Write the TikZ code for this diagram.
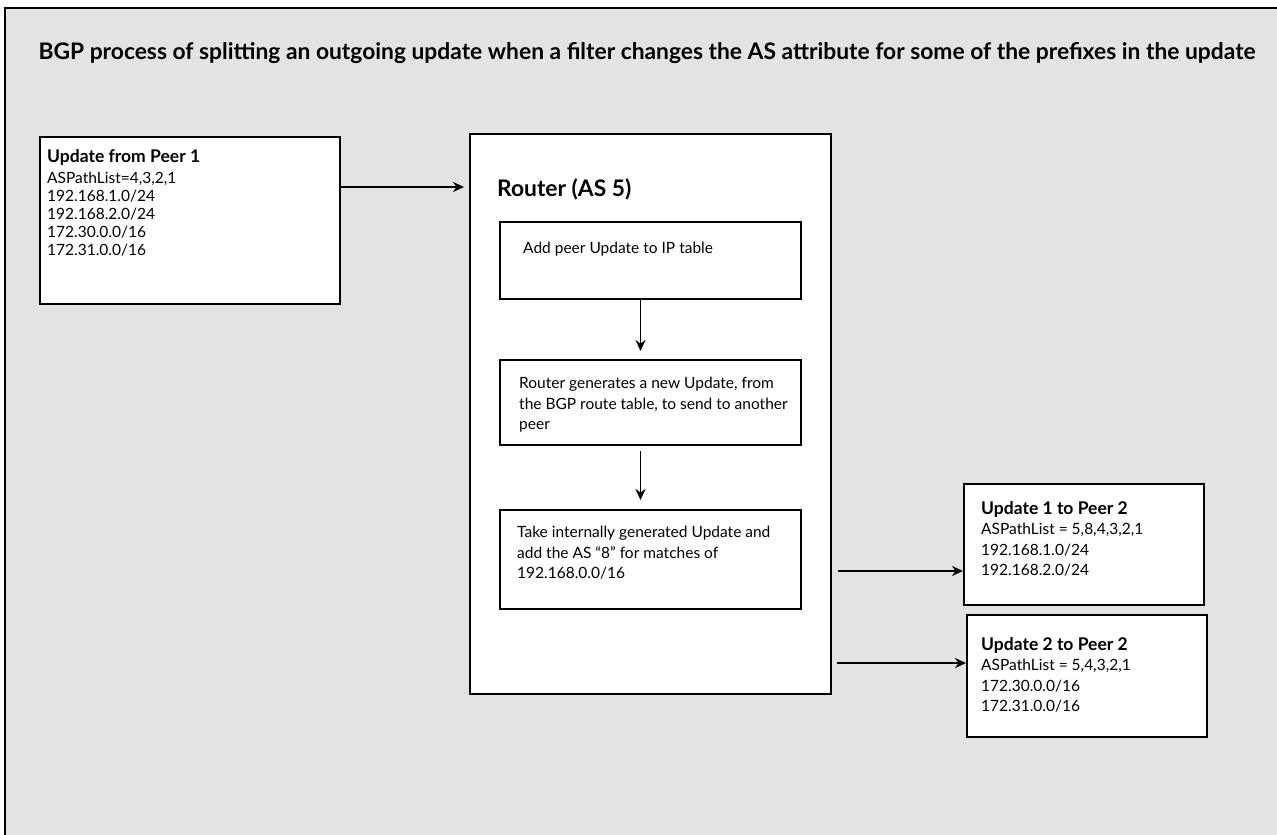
\documentclass[tikz,border=0pt]{standalone}
\usepackage{fontspec}
\setmainfont{Lato}
\usetikzlibrary{arrows.meta,positioning}
\definecolor{panelgray}{RGB}{227,227,229}
\newcommand{\boxhead}[1]{{\fontsize{17.5}{18}\selectfont\bfseries #1}}

\begin{document}
\begin{tikzpicture}[
    x=1pt, y=-1pt,
    msgbox/.style={draw, line width=2pt, fill=white, inner sep=0pt, anchor=north west},
    head/.style={inner sep=0pt, font=\fontsize{22.8}{26}\selectfont\bfseries},
    body/.style={anchor=north west, align=left, inner sep=0pt, font=\fontsize{15.5}{20.5}\selectfont},
    tightbody/.style={body, font=\fontsize{15.5}{18}\selectfont},
    flow/.style={-{Stealth[length=11pt, width=10pt]}, line width=1.8pt},
  ]
    % Background
    \fill[white] (0,0) rectangle (1277,835);
    \useasboundingbox (0,0) rectangle (1277,835);
    \fill[panelgray] (5,8) rectangle (1277,835);
    \draw[line width=2pt] (5,835) -- (5,8) -- (1277,8);

    % Title
    \node[head, anchor=base] (title) at (647,59) {BGP process of splitting an outgoing update when a filter changes the AS attribute for some of the prefixes in the update};

    % Boxes
    \node[msgbox, minimum width=300, minimum height=167] (peer1) at (39,136) {};
    \node[msgbox, minimum width=361, minimum height=560] (router) at (469,133) {};
    \node[msgbox, minimum width=301, minimum height=77] (addbox) at (499,221) {};
    \node[msgbox, minimum width=301, minimum height=85] (genbox) at (499,359) {};
    \node[msgbox, minimum width=301, minimum height=99] (takebox) at (499,509) {};
    \node[msgbox, minimum width=240, minimum height=121] (out1) at (963,483) {};
    \node[msgbox, minimum width=240, minimum height=122] (out2) at (966,614) {};

    % Texts
    \node[tightbody] (peer1txt) at ([shift={(8,13)}]peer1.north west) {\boxhead{Update from Peer 1}\\[3pt]ASPathList=4,3,2,1\\192.168.1.0/24\\192.168.2.0/24\\172.30.0.0/16\\172.31.0.0/16};
    \node[head, anchor=base west] (routertxt) at ([shift={(28,63)}]router.north west) {Router (AS 5)};
    \node[body] (addtxt) at ([shift={(24,21)}]addbox.north west) {Add peer Update to IP table};
    \node[body] (gentxt) at ([shift={(20,18)}]genbox.north west) {Router generates a new Update, from\\the BGP route table, to send to another\\peer};
    \node[body] (taketxt) at ([shift={(18,17)}]takebox.north west) {Take internally generated Update and\\add the AS “8” for matches of\\192.168.0.0/16};
    \node[body] (out1txt) at ([shift={(18,18)}]out1.north west) {\boxhead{Update 1 to Peer 2}\\ASPathList = 5,8,4,3,2,1\\192.168.1.0/24\\192.168.2.0/24};
    \node[body] (out2txt) at ([shift={(15,23)}]out2.north west) {\boxhead{Update 2 to Peer 2}\\ASPathList = 5,4,3,2,1\\172.30.0.0/16\\172.31.0.0/16};

    % Flow
    \coordinate (in1) at ([shift={(0,51)}]peer1.north east);
    \draw[flow, shorten >=5pt] (in1) -- (in1 -| router.west);
    \draw[flow, shorten >=8pt] ([shift={(-10,0)}]addbox.south) -- ([shift={(-10,0)}]genbox.north);
    \draw[flow, shorten <=5pt, shorten >=9pt] ([shift={(-10,0)}]genbox.south) -- ([shift={(-10,0)}]takebox.north);
    \coordinate (out1in) at ([shift={(0,88)}]out1.north west);
    \draw[flow, shorten <=6pt] (out1in -| router.east) -- (out1in);
    \coordinate (out2in) at ([shift={(0,49)}]out2.north west);
    \draw[flow, shorten <=5pt] (out2in -| router.east) -- (out2in);
  \end{tikzpicture}
\end{document}
